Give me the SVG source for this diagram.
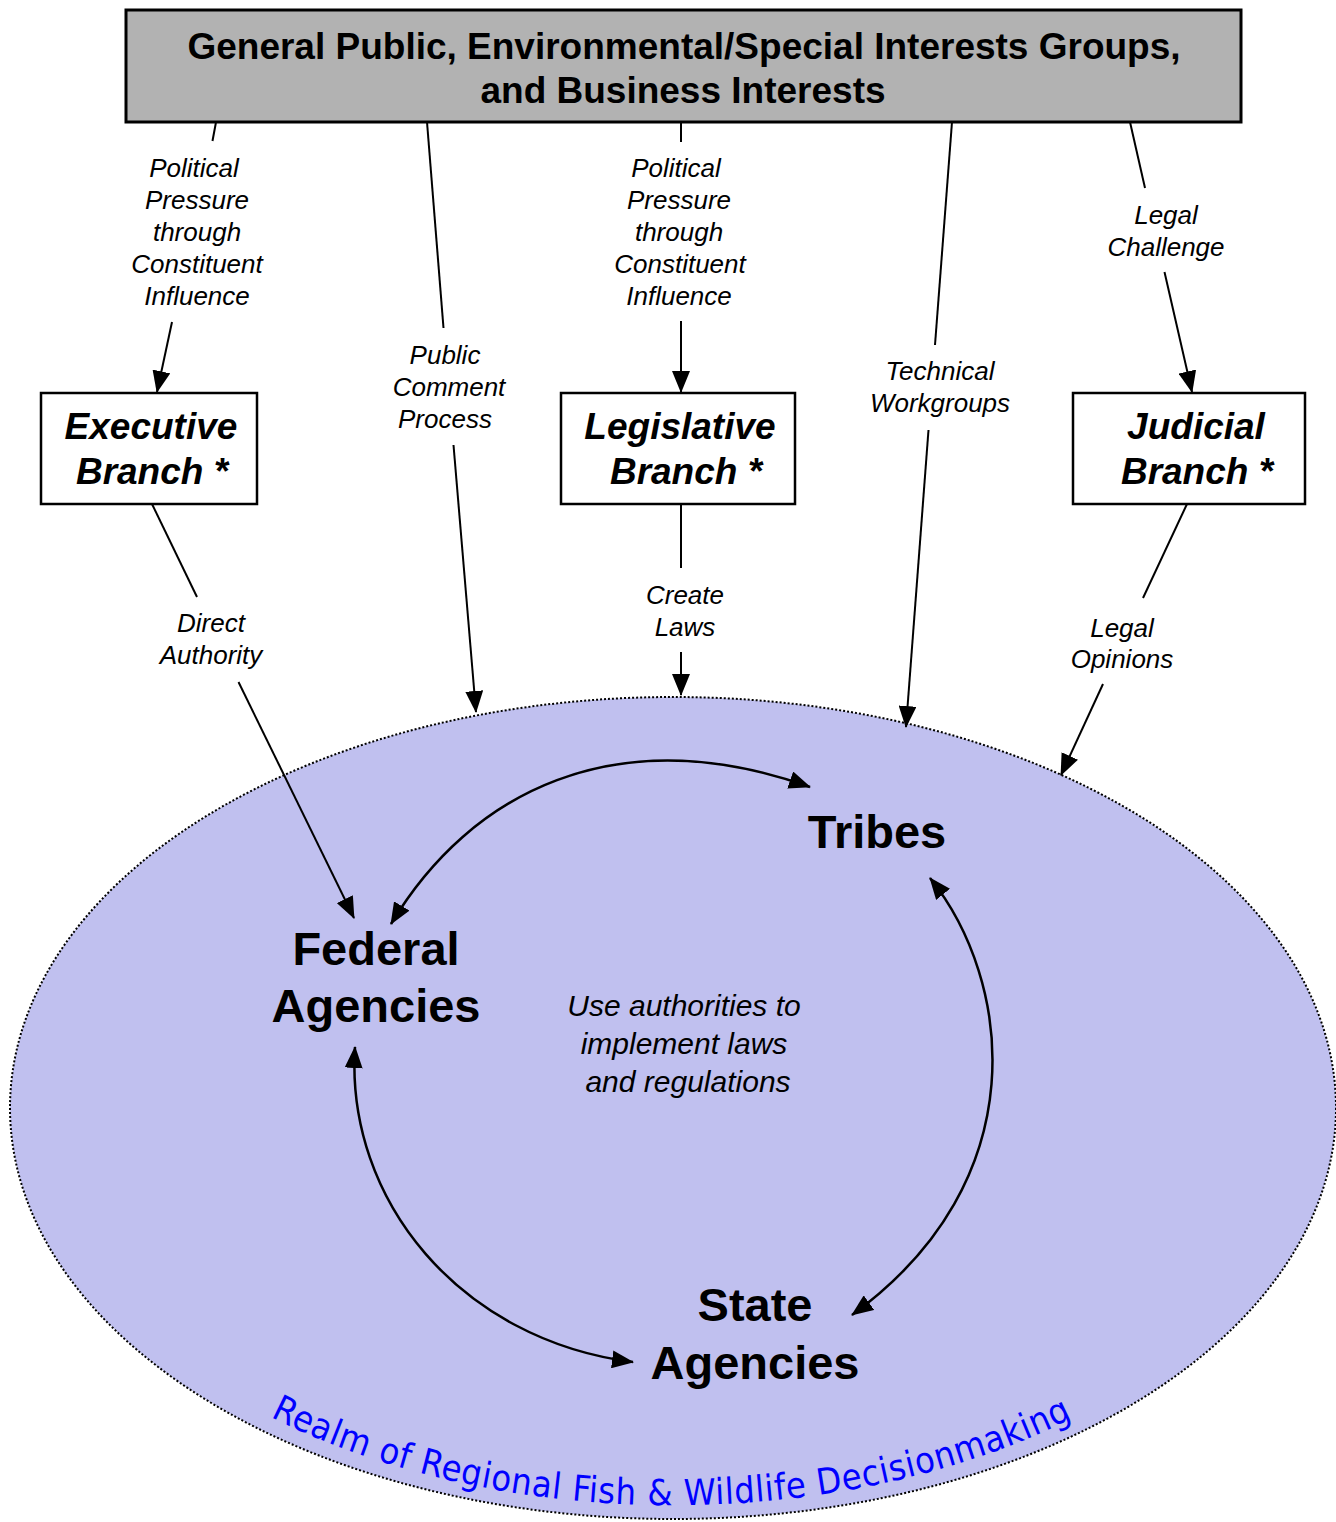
<svg xmlns="http://www.w3.org/2000/svg" width="1336" height="1522" viewBox="0 0 1336 1522">
<style>
.lbl{font-family:"Liberation Sans",Arial,sans-serif;font-style:italic;font-size:26px;fill:#000;text-anchor:middle}
.br{font-family:"Liberation Sans",Arial,sans-serif;font-style:italic;font-weight:bold;font-size:37px;fill:#000;text-anchor:middle}
.ag{font-family:"Liberation Sans",Arial,sans-serif;font-weight:bold;font-size:47px;fill:#000;text-anchor:middle}
.ttl{font-family:"Liberation Sans",Arial,sans-serif;font-weight:bold;font-size:37px;fill:#000;text-anchor:middle}
.use{font-family:"Liberation Sans",Arial,sans-serif;font-style:italic;font-size:30px;fill:#000;text-anchor:middle}
.box{fill:#fff;stroke:#000;stroke-width:2.5}
.ln{fill:none;stroke:#000;stroke-width:2}
.arr{fill:none;stroke:#000;stroke-width:2;marker-end:url(#ah)}
.both{fill:none;stroke:#000;stroke-width:2.5;marker-start:url(#ah);marker-end:url(#ah)}
.realm{font-family:"DejaVu Sans Condensed","DejaVu Sans",Verdana,sans-serif;font-stretch:condensed;font-size:36px;fill:#0000FF}
</style>
<defs>
<marker id="ah" markerUnits="userSpaceOnUse" markerWidth="22" markerHeight="18" viewBox="0 0 22 18" refX="21" refY="9" orient="auto-start-reverse">
<path d="M0,0 L22,9 L0,18 z" fill="#000"/>
</marker>
<path id="realmPath" d="M 119,1307 A 640 397 0 0 0 1227,1307"/>
</defs>
<rect width="1336" height="1522" fill="#fff"/>

<g id="realm">
<ellipse cx="673" cy="1108" rx="663" ry="411" fill="#C0C0EF" stroke="#000" stroke-width="2" stroke-dasharray="2 2"/>
<text class="realm"><textPath href="#realmPath" startOffset="188" textLength="828" lengthAdjust="spacing">Realm of Regional Fish &amp; Wildlife Decisionmaking</textPath></text>
</g>

<g id="public">
<rect x="126" y="10" width="1115" height="112" fill="#B2B2B2" stroke="#000" stroke-width="3"/>
<text class="ttl" x="684" y="59">General Public, Environmental/Special Interests Groups,</text>
<text class="ttl" x="683" y="103">and Business Interests</text>
</g>

<g id="executive">
<rect class="box" x="41" y="393" width="216" height="111"/>
<text class="br" x="151" y="439">Executive</text>
<text class="br" x="152" y="484">Branch *</text>
</g>

<g id="legislative">
<rect class="box" x="561" y="393" width="234" height="111"/>
<text class="br" x="680" y="439">Legislative</text>
<text class="br" x="686" y="484">Branch *</text>
</g>

<g id="judicial">
<rect class="box" x="1073" y="393" width="232" height="111"/>
<text class="br" x="1196" y="439">Judicial</text>
<text class="br" x="1197" y="484">Branch *</text>
</g>

<g id="tribes">
<text class="ag" x="877" y="848">Tribes</text>
</g>
<g id="federal">
<text class="ag" x="376" y="965">Federal</text>
<text class="ag" x="376" y="1022">Agencies</text>
</g>
<g id="state">
<text class="ag" x="755" y="1321">State</text>
<text class="ag" x="755" y="1379">Agencies</text>
</g>
<g id="center-label">
<text class="use" x="684" y="1016">Use authorities to</text>
<text class="use" x="684" y="1054">implement laws</text>
<text class="use" x="688" y="1092">and regulations</text>
</g>

<g id="connectors">
<line class="ln" x1="216" y1="122" x2="212.5" y2="141"/>
<line class="arr" x1="172" y1="322" x2="157" y2="392"/>
<line class="ln" x1="427" y1="122" x2="443.5" y2="328"/>
<line class="arr" x1="453.5" y1="445" x2="476" y2="712"/>
<line class="ln" x1="681" y1="122" x2="681" y2="142"/>
<line class="arr" x1="681" y1="321" x2="681" y2="392"/>
<line class="ln" x1="952" y1="122" x2="935" y2="345"/>
<line class="arr" x1="928.5" y1="430" x2="906" y2="727"/>
<line class="ln" x1="1130" y1="122" x2="1145" y2="188"/>
<line class="arr" x1="1164.5" y1="272" x2="1192" y2="392"/>
<line class="ln" x1="152" y1="504" x2="197" y2="597"/>
<line class="arr" x1="238.5" y1="682" x2="354" y2="918"/>
<line class="ln" x1="681" y1="504" x2="681" y2="568"/>
<line class="arr" x1="681" y1="652" x2="681" y2="695"/>
<line class="ln" x1="1187" y1="504" x2="1143" y2="598"/>
<line class="arr" x1="1103" y1="684" x2="1061" y2="775"/>
<path class="both" d="M 391,924 C 470,792 615,718 810,787"/>
<path class="both" d="M 930,878 C 1012,980 1038,1180 852,1315"/>
<path class="both" d="M 355,1047 C 345,1200 460,1340 633,1362"/>
</g>

<g id="labels">
<text class="lbl" x="194" y="177">Political</text>
<text class="lbl" x="197" y="209">Pressure</text>
<text class="lbl" x="197" y="241">through</text>
<text class="lbl" x="197" y="273">Constituent</text>
<text class="lbl" x="197" y="305">Influence</text>

<text class="lbl" x="676" y="177">Political</text>
<text class="lbl" x="679" y="209">Pressure</text>
<text class="lbl" x="679" y="241">through</text>
<text class="lbl" x="680" y="273">Constituent</text>
<text class="lbl" x="679" y="305">Influence</text>

<text class="lbl" x="445" y="364">Public</text>
<text class="lbl" x="449" y="396">Comment</text>
<text class="lbl" x="445" y="428">Process</text>

<text class="lbl" x="940" y="380">Technical</text>
<text class="lbl" x="940" y="412">Workgroups</text>

<text class="lbl" x="1166" y="224">Legal</text>
<text class="lbl" x="1166" y="256">Challenge</text>

<text class="lbl" x="211" y="632">Direct</text>
<text class="lbl" x="211" y="664">Authority</text>

<text class="lbl" x="685" y="604">Create</text>
<text class="lbl" x="685" y="636">Laws</text>

<text class="lbl" x="1122" y="637">Legal</text>
<text class="lbl" x="1122" y="668">Opinions</text>
</g>
</svg>
